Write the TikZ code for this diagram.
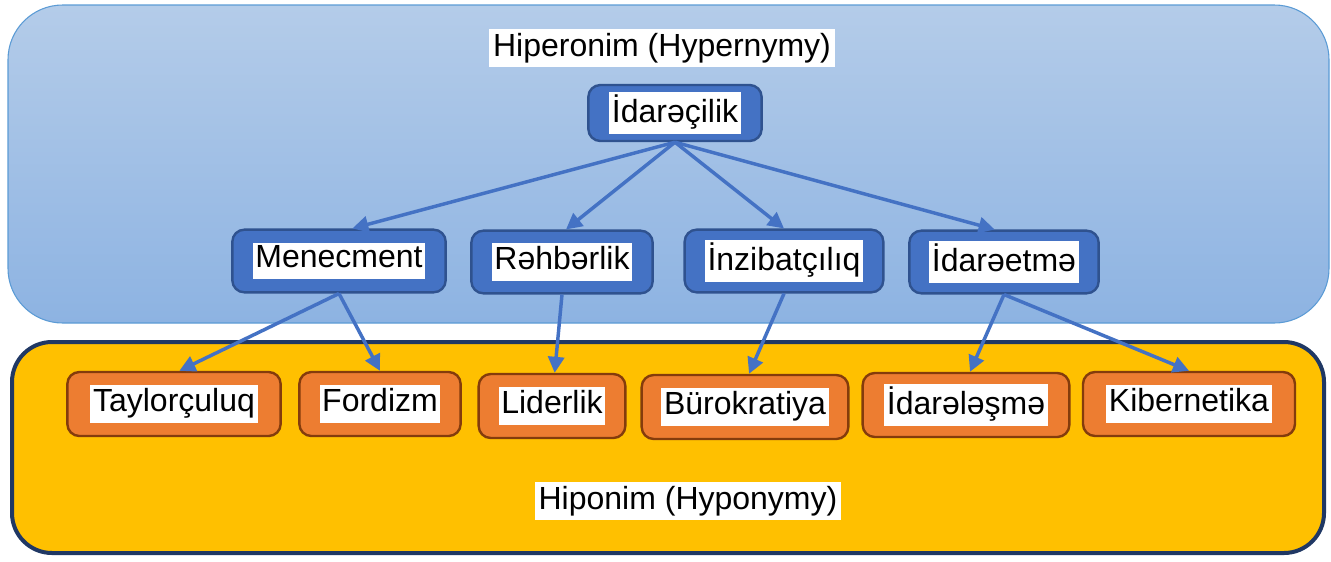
\documentclass[tikz,border=0pt]{standalone}
\usepackage{fontspec}
\setmainfont{Liberation Sans}
\usetikzlibrary{arrows.meta,positioning}
\definecolor{PanelTop}{HTML}{B4CCE9}
\definecolor{PanelBot}{HTML}{8DB3E2}
\definecolor{PanelLine}{HTML}{5B9BD5}
\definecolor{Gold}{HTML}{FFC000}
\definecolor{Navy}{HTML}{203864}
\definecolor{BlueBox}{HTML}{4472C4}
\definecolor{BlueLine}{HTML}{2F528F}
\definecolor{OrangeBox}{HTML}{ED7D31}
\definecolor{OrangeLine}{HTML}{843C0C}
\setlength{\fboxsep}{2pt}
\newcommand{\Word}[1]{\colorbox{white}{\rule[-6.5pt]{0pt}{20pt}#1}}
\tikzstyle{Upper} = [draw=BlueLine, fill=BlueBox, line width=1.8pt, rounded corners=9pt, minimum height=47pt, inner sep=0pt]
\tikzstyle{Lower} = [draw=OrangeLine, fill=OrangeBox, line width=1.8pt, rounded corners=9pt, minimum height=48pt, inner sep=0pt]
\tikzstyle{Title} = [fill=white, inner sep=3pt]
\tikzstyle{Link}  = [draw=BlueBox, line width=2.6pt]

\begin{document}
\begin{tikzpicture}[x=0.75pt, y=-0.75pt, >={Triangle[length=12pt,width=12pt]},
    every node/.style={font=\fontsize{24}{28}\selectfont}]
    \useasboundingbox (0,0) rectangle (1331,561);
    % panels
    \draw[PanelLine, line width=0.8pt, top color=PanelTop, bottom color=PanelBot, rounded corners=41pt] (8,5) rectangle (1329,323);
    \draw[Navy, line width=3pt, fill=Gold, rounded corners=30pt] (12,342) rectangle (1324,553);
    \node[Title] (hyper) at (662,48)  {Hiperonim (Hypernymy)};
    \node[Title] (hypo)  at (688,501) {Hiponim (Hyponymy)};

    % hypernym tree
    \node[Upper, minimum width=130pt, minimum height=42pt] (top) at (675,113) {\Word{İdarəçilik}};
    \node[Upper, minimum width=160pt] (men) at (339,261)  {\Word{Menecment}};
    \node[Upper, minimum width=136pt] (reh) at (562,262)  {\Word{Rəhbərlik}};
    \node[Upper, minimum width=149pt] (inz) at (784,261)  {\Word{İnzibatçılıq}};
    \node[Upper, minimum width=142pt] (ide) at (1004,262) {\Word{İdarəetmə}};

    % hyponyms
    \node[Lower, minimum width=160pt] (tay) at (174,404)  {\Word{Taylorçuluq}};
    \node[Lower, minimum width=121pt] (for) at (380,404)  {\Word{Fordizm}};
    \node[Lower, minimum width=110pt] (lid) at (552,406)  {\Word{Liderlik}};
    \node[Lower, minimum width=155pt] (bur) at (745,407)  {\Word{Bürokratiya}};
    \node[Lower, minimum width=155pt] (ida) at (966,405)  {\Word{İdarələşmə}};
    \node[Lower, minimum width=159pt] (kib) at (1189,404) {\Word{Kibernetika}};

    \draw[Link,->] (top.south) -- ([xshift=10pt]men.north);
    \draw[Link,->] (top.south) -- ([xshift=3pt]reh.north);
    \draw[Link,->] (top.south) -- (inz.north);
    \draw[Link,->] (top.south) -- ([xshift=-7pt]ide.north);
    \draw[Link,->] (men.south) -- ([xshift=4pt]tay.north);
    \draw[Link,->] (men.south) -- (for.north);
    \draw[Link,->] (reh.south) -- ([xshift=2pt]lid.north);
    \draw[Link,->] (inz.south) -- ([xshift=3pt]bur.north);
    \draw[Link,->] (ide.south) -- ([xshift=3pt]ida.north);
    \draw[Link,->] (ide.south) -- (kib.north);
  \end{tikzpicture}
\end{document}
